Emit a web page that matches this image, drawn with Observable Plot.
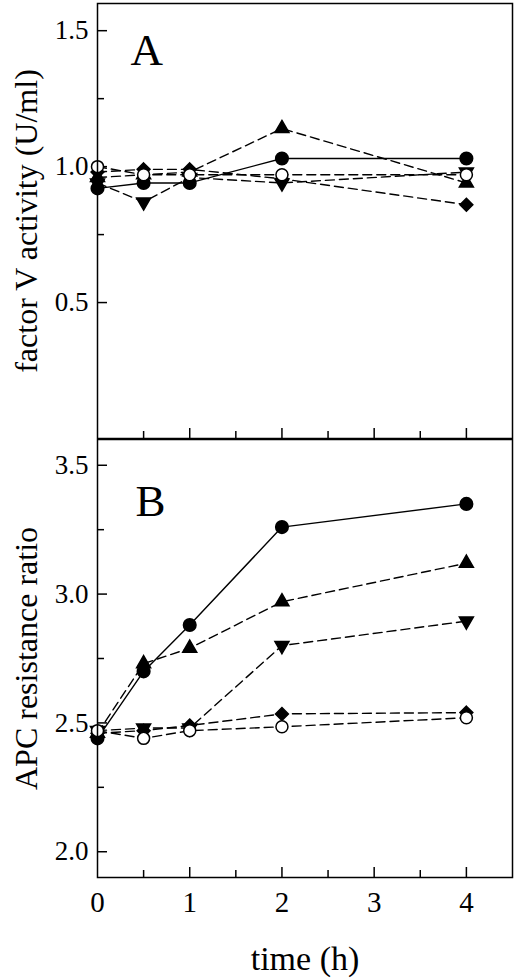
<!DOCTYPE html>
<html>
<head>
<meta charset="utf-8">
<script src="https://cdn.jsdelivr.net/npm/d3@7"></script>
<script src="https://cdn.jsdelivr.net/npm/@observablehq/plot@0.6"></script>
<style>
  body { margin: 0; background: #fff; }
  #chart svg { display: block; }
</style>
</head>
<body>
<div id="chart"></div>
<script>
// sampling times (h)
const times = [0, 0.5, 1, 2, 4];
// listed in drawing order (last one ends up on top)
const seriesNames = ['down triangle', 'up triangle', 'diamond', 'filled circle', 'open circle'];

// panel A: factor V activity (U/ml)
const fvDown     = [0.94, 0.87, 0.96, 0.94, 0.98];
const fvUp       = [0.96, 0.97, 0.98, 1.14, 0.94];
const fvDiamond  = [0.98, 0.99, 0.99, 0.955, 0.86];
const fvCircle   = [0.92, 0.94, 0.94, 1.03, 1.03];
const fvOpen     = [1.00, 0.97, 0.97, 0.97, 0.97];

// panel B: APC resistance ratio
const apcDown    = [2.47, 2.48, 2.48, 2.80, 2.895];
const apcUp      = [2.46, 2.73, 2.79, 2.97, 3.12];
const apcDiamond = [2.46, 2.47, 2.49, 2.535, 2.54];
const apcCircle  = [2.44, 2.70, 2.88, 3.26, 3.35];
const apcOpen    = [2.47, 2.44, 2.47, 2.485, 2.52];

// tick values
const xMajor = [1, 2, 3, 4];
const xMinor = [0.5, 1.5, 2.5, 3.5];
const xLabels = [0, 1, 2, 3, 4];
const aMajor = [0.5, 1.0, 1.5];
const aMinor = [0.75, 1.25];
const bMajor = [2.0, 2.5, 3.0, 3.5];
const bMinor = [2.25, 2.75, 3.25];

function rows(lists) {
  const out = [];
  seriesNames.forEach((s, i) => {
    lists[i].forEach((v, j) => out.push({series: s, time: times[j], value: v}));
  });
  return out;
}
const dataA = rows([fvDown, fvUp, fvDiamond, fvCircle, fvOpen]);
const dataB = rows([apcDown, apcUp, apcDiamond, apcCircle, apcOpen]);

// d3 triangle flipped upside down
const triangleDown = {
  draw(context, size) {
    const y = -Math.sqrt(size / (Math.sqrt(3) * 3));
    context.moveTo(0, -y * 2);
    context.lineTo(-Math.sqrt(3) * y, y);
    context.lineTo(Math.sqrt(3) * y, y);
    context.closePath();
  }
};

const look = {
  'filled circle': {symbol: 'circle', fill: 'black', r: 6.3, dash: null},
  'up triangle':   {symbol: 'triangle', fill: 'black', r: 5.2, dash: '9,5'},
  'down triangle': {symbol: triangleDown, fill: 'black', r: 5.2, dash: '9,5'},
  'diamond':       {symbol: 'diamond2', fill: 'black', r: 5.8, dash: '9,5'},
  'open circle':   {symbol: 'circle', fill: 'white', r: 6, dash: '9,5'}
};

function seriesMarks(data) {
  const lines = seriesNames.map(s => Plot.line(data.filter(d => d.series === s), {
    x: 'time', y: 'value', stroke: 'black', strokeWidth: 1.4,
    strokeDasharray: look[s].dash
  }));
  const dots = seriesNames.map(s => Plot.dot(data.filter(d => d.series === s), {
    x: 'time', y: 'value', symbol: look[s].symbol, r: look[s].r,
    fill: look[s].fill, stroke: 'black', strokeWidth: 1.5
  }));
  return [...lines, ...dots];
}

// inward ticks: short rules trimmed with insets from the frame edge
const W = 520, ML = 97, MR = 8;
function tickMarks(major, minor, frameH) {
  const fw = W - ML - MR;
  return [
    Plot.tickY(major, {y: d => d, insetRight: fw - 10, strokeWidth: 1.5}),
    Plot.tickY(minor, {y: d => d, insetRight: fw - 7, strokeWidth: 1.5}),
    Plot.tickX(xMajor, {x: d => d, insetTop: frameH - 10, strokeWidth: 1.5}),
    Plot.tickX(xMinor, {x: d => d, insetTop: frameH - 7, strokeWidth: 1.5})
  ];
}

const font = 'Liberation Serif, Times New Roman, serif';

let chartA = Plot.plot({
  width: W,
  height: 439,
  marginLeft: ML,
  marginRight: MR,
  marginTop: 3,
  marginBottom: 1,
  x: {domain: [0, 4.5], axis: null},
  y: {domain: [0, 1.6], axis: null},
  style: {fontFamily: font, color: 'black', background: 'white'},
  marks: [
    ...tickMarks(aMajor, aMinor, 435),
    Plot.axisY(aMajor, {tickSize: 0, tickPadding: 9, tickFormat: '.1f', label: null, fontSize: 27}),
    ...seriesMarks(dataA),
    Plot.frame({stroke: 'black', strokeWidth: 1.5}),
    Plot.text(['A'], {frameAnchor: 'top-left', dx: 33, dy: 61, lineAnchor: 'bottom', fontSize: 45}),
    Plot.text(['factor V activity (U/ml)'], {frameAnchor: 'left', rotate: -90, dx: -83, textAnchor: 'middle', lineAnchor: 'top', fontSize: 32})
  ]
});

let chartB = Plot.plot({
  width: W,
  height: 541,
  marginLeft: ML,
  marginRight: MR,
  marginTop: 0,
  marginBottom: 103,
  x: {domain: [0, 4.5], axis: null},
  y: {domain: [1.9, 3.6], axis: null},
  style: {fontFamily: font, color: 'black', background: 'white'},
  marks: [
    ...tickMarks(bMajor, bMinor, 438),
    Plot.axisY(bMajor, {tickSize: 0, tickPadding: 9, tickFormat: '.1f', label: null, fontSize: 27}),
    Plot.axisX(xLabels, {tickSize: 0, tickPadding: 14, label: null, fontSize: 29}),
    ...seriesMarks(dataB),
    Plot.frame({stroke: 'black', strokeWidth: 1.5}),
    Plot.text(['B'], {frameAnchor: 'top-left', dx: 38, dy: 76, lineAnchor: 'bottom', fontSize: 45}),
    Plot.text(['APC resistance ratio'], {frameAnchor: 'left', rotate: -90, dx: -83, textAnchor: 'middle', lineAnchor: 'top', fontSize: 32}),
    Plot.text(['time (h)'], {frameAnchor: 'bottom', dy: 92, lineAnchor: 'bottom', fontSize: 34})
  ]
});

d3.select('#chart').append(() => chartA);
d3.select('#chart').append(() => chartB);
</script>
</body>
</html>
